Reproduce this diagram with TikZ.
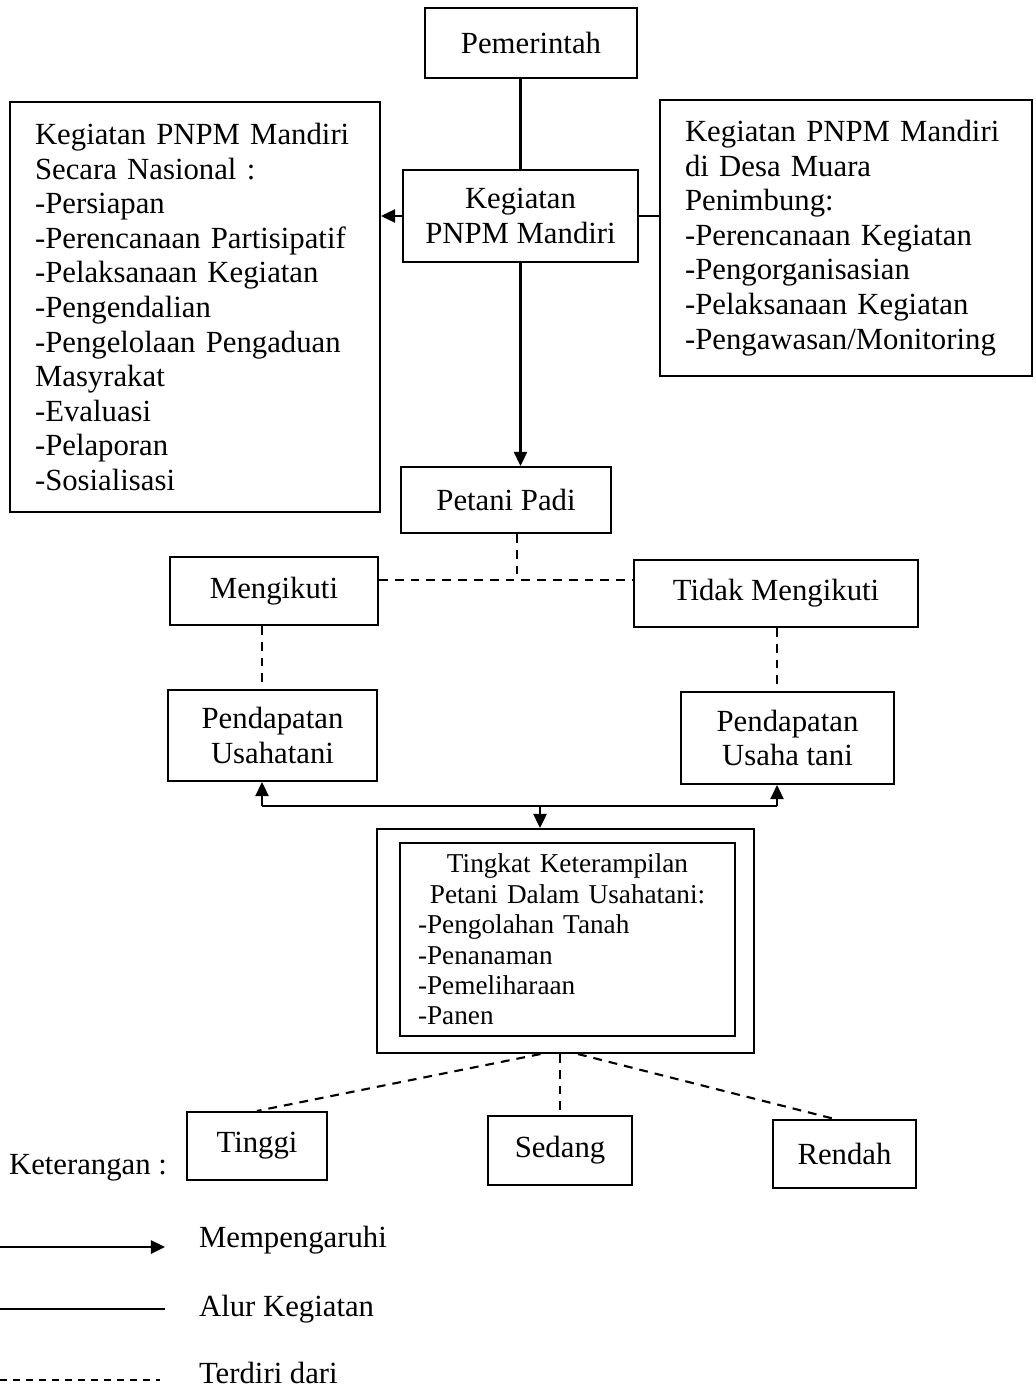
\documentclass[tikz,border=0pt]{standalone}
\usepackage{fontspec}
\setmainfont{Liberation Serif}
\usetikzlibrary{arrows.meta}
\newcommand{\bigtxt}{\fontsize{17.5}{19.7}\selectfont}
\newcommand{\smalltxt}{\fontsize{15.5}{17.3}\selectfont}
\tikzset{box/.style={draw, rectangle, line width=1.2pt, inner sep=0pt, align=center, font=\bigtxt}}
\tikzset{listbox/.style={box, align=left, inner xsep=0.5cm}}
\tikzset{arr/.style={-{Triangle[length=8pt,width=7.5pt]}}}
\tikzset{dashline/.style={dash pattern=on 5pt off 4pt}}

\begin{document}
\begin{tikzpicture}[x=0.02cm, y=-0.02cm, line width=1.2pt]
    \useasboundingbox (0,0) rectangle (1035,1389);

    \node[box, minimum width=4.24cm, minimum height=1.4cm] (pemerintah) at (531,43) {Pemerintah};
    \node[box, minimum width=4.7cm, minimum height=1.84cm] (kegiatan) at (520.5,216) {Kegiatan\\PNPM Mandiri};
    \node[listbox, text width=6.4cm, minimum height=8.2cm] (nasional) at (195,307) {Kegiatan PNPM Mandiri\\Secara Nasional :\\-Persiapan\\-Perencanaan Partisipatif\\-Pelaksanaan Kegiatan\\-Pengendalian\\-Pengelolaan Pengaduan\\Masyrakat\\-Evaluasi\\-Pelaporan\\-Sosialisasi};
    \node[listbox, text width=6.44cm, minimum height=5.52cm] (desa) at (846,238) {Kegiatan PNPM Mandiri\\di Desa Muara\\Penimbung:\\-Perencanaan Kegiatan\\-Pengorganisasian\\-Pelaksanaan Kegiatan\\-Pengawasan/Monitoring};
    \node[box, minimum width=4.2cm, minimum height=1.32cm] (petani) at (506,500) {Petani Padi};
    \node[box, minimum width=4.16cm, minimum height=1.36cm] (ikut) at (274,591) {Mengikuti};
    \node[box, minimum width=5.68cm, minimum height=1.34cm] (tidak) at (776,593.5) {Tidak Mengikuti};
    \node[box, minimum width=4.18cm, minimum height=1.82cm] (pendA) at (272.5,735.5) {Pendapatan\\Usahatani};
    \node[box, minimum width=4.26cm, minimum height=1.84cm] (pendB) at (787.5,738) {Pendapatan\\Usaha tani};
    \node[box, minimum width=7.54cm, minimum height=4.48cm] (skillout) at (565.5,941) {};
    \node[box, align=left, font=\smalltxt, inner xsep=0.36cm, text width=5.98cm, minimum height=3.86cm] (skill) at (567.5,939.5)
        {{\centering Tingkat Keterampilan\\Petani Dalam Usahatani:\par}-Pengolahan Tanah\\-Penanaman\\-Pemeliharaan\\-Panen};
    \node[box, minimum width=2.8cm, minimum height=1.36cm] (tinggi) at (257,1146) {Tinggi};
    \node[box, minimum width=2.88cm, minimum height=1.38cm] (sedang) at (560,1150.5) {Sedang};
    \node[box, minimum width=2.86cm, minimum height=1.36cm] (rendah) at (844.5,1154) {Rendah};

    \coordinate (j1) at (517,580);
    \coordinate (la) at (262,806);
    \coordinate (rb) at (777,806);
    \coordinate (mid) at (540,806);

    \draw (kegiatan.north) -- (kegiatan.north |- pemerintah.south);
    \draw[arr] (kegiatan.south) -- (kegiatan.south |- petani.north);
    \draw[arr] (kegiatan.west) -- (kegiatan.west -| nasional.east);
    \draw (kegiatan.east) -- (kegiatan.east -| desa.west);

    \draw[dashline] (petani.south -| j1) -- (j1);
    \draw[dashline] (ikut.east |- j1) -- (tidak.west |- j1);
    \draw[dashline] (ikut.south -| la) -- (pendA.north -| la);
    \draw[dashline] (tidak.south -| rb) -- (pendB.north -| rb);

    \draw (la) -- (rb);
    \draw[arr] (la) -- (pendA.south -| la);
    \draw[arr] (rb) -- (pendB.south -| rb);
    \draw[arr] (mid) -- (skillout.north -| mid);

    \draw[dashline] ([xshift=-0.5cm]skillout.south) -- (tinggi.north);
    \draw[dashline] (skillout.south -| sedang) -- (sedang.north);
    \draw[dashline] ([xshift=0.25cm]skillout.south) -- ([xshift=-0.2cm]rendah.north);

    % keterangan
    \node[font=\bigtxt, anchor=west, inner sep=0pt] (ket) at (8,1168) {Keterangan :};
    \coordinate (l1a) at (0,1247);
    \coordinate (l1b) at (165,1247);
    \coordinate (l2a) at (0,1309);
    \coordinate (l2b) at (165,1309);
    \coordinate (l3a) at (0,1380);
    \coordinate (l3b) at (160,1380);
    \draw[arr] (l1a) -- (l1b);
    \draw (l2a) -- (l2b);
    \draw[dash pattern=on 4pt off 3.4pt] (l3a) -- (l3b);
    \node[font=\bigtxt, anchor=base west, inner sep=0pt] (pengaruh) at (198,1247) {Mempengaruhi};
    \node[font=\bigtxt, anchor=base west, inner sep=0pt] (alur) at (198,1316) {Alur Kegiatan};
    \node[font=\bigtxt, anchor=base west, inner sep=0pt] (terdiri) at (198,1383) {Terdiri dari};
\end{tikzpicture}
\end{document}
